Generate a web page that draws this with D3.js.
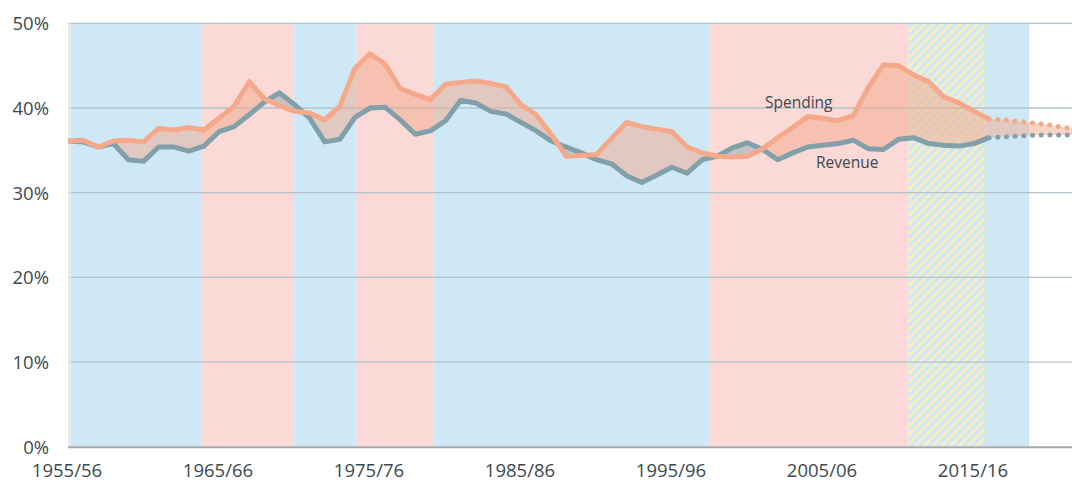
<!DOCTYPE html>
<html>
<head>
<meta charset="utf-8">
<script src="https://cdn.jsdelivr.net/npm/d3@7"></script>
<style>
  html, body { margin: 0; padding: 0; background: #ffffff; }
  svg { display: block; }
</style>
</head>
<body>
<svg id="chart" width="1072" height="485"></svg>
<script>
// ---------------- DATA ----------------
const categories = ["1955/56","1956/57","1957/58","1958/59","1959/60","1960/61","1961/62","1962/63","1963/64","1964/65",
  "1965/66","1966/67","1967/68","1968/69","1969/70","1970/71","1971/72","1972/73","1973/74","1974/75",
  "1975/76","1976/77","1977/78","1978/79","1979/80","1980/81","1981/82","1982/83","1983/84","1984/85",
  "1985/86","1986/87","1987/88","1988/89","1989/90","1990/91","1991/92","1992/93","1993/94","1994/95",
  "1995/96","1996/97","1997/98","1998/99","1999/00","2000/01","2001/02","2002/03","2003/04","2004/05",
  "2005/06","2006/07","2007/08","2008/09","2009/10","2010/11","2011/12","2012/13","2013/14","2014/15",
  "2015/16","2016/17","2017/18","2018/19","2019/20","2020/21","2021/22","2022/23"];

const tickLabels = ["1955/56","1965/66","1975/76","1985/86","1995/96","2005/06","2015/16"];
const yTicks = [0, 10, 20, 30, 40, 50];

// Outturn (% of GDP), 1955/56 .. 2016/17
const spending = [36.1,36.2,35.4,36.1,36.2,36.0,37.6,37.4,37.7,37.4,
  38.8,40.2,43.1,41.1,40.3,39.6,39.4,38.6,40.2,44.7,
  46.4,45.2,42.3,41.6,41.0,42.8,43.0,43.2,42.9,42.5,
  40.4,39.2,36.9,34.3,34.4,34.5,36.4,38.3,37.8,37.5,
  37.2,35.4,34.7,34.3,34.2,34.3,35.2,36.5,37.7,39.0,
  38.8,38.5,39.1,42.4,45.1,45.0,43.9,43.1,41.3,40.6,
  39.6,38.7];
const revenue = [36.1,36.0,35.4,35.8,33.9,33.7,35.4,35.4,34.9,35.5,
  37.2,37.8,39.2,40.7,41.8,40.4,38.8,36.0,36.3,38.9,
  40.0,40.1,38.6,36.9,37.3,38.5,40.9,40.6,39.6,39.3,
  38.3,37.3,36.1,35.4,34.7,33.9,33.4,32.0,31.2,32.1,
  33.0,32.3,33.9,34.3,35.3,35.9,35.1,33.9,34.7,35.4,
  35.6,35.8,36.2,35.2,35.1,36.3,36.5,35.8,35.6,35.5,
  35.8,36.5];
// Projections, 2016/17 .. 2022/23
const spendingProj = [38.7,38.6,38.4,38.2,38.0,37.7,37.5];
const revenueProj  = [36.5,36.6,36.7,36.8,36.8,36.8,36.8];
const projStartIndex = 61;

// Government periods (fractional category positions)
const bandStart = [0.2, 8.89, 14.92, 19.12, 24.19, 42.47, 55.65, 60.73];
const bandEnd   = [8.89, 14.92, 19.12, 24.19, 42.47, 55.65, 60.73, 63.66];
const bandParty = ["con","lab","con","lab","con","lab","coalition","con"];

// Series labels: [text, category position, value]
const seriesLabelText = ["Spending", "Revenue"];
const seriesLabelPos  = [46.16, 49.54];
const seriesLabelVal  = [40.0, 32.9];

// ---------------- CHART ----------------
const W = 1072, H = 485;
const svg = d3.select("#chart");
const FONT = "'Open Sans', 'Liberation Sans', sans-serif";
const TEXT = "#3d4950";

const x0 = 68, step = 15.1;
const xPoint = d3.scalePoint().domain(categories).range([x0, x0 + step * (categories.length - 1)]);
const xi = d3.scaleLinear().domain([0, categories.length - 1]).range([x0, x0 + step * (categories.length - 1)]);
const y = d3.scaleLinear().domain([0, 50]).range([446.8, 23.3]);

const colors = { con: "#cfe8f6", lab: "#fad9d7", coalition: "#cfe8f6" };

// hatch pattern
const defs = svg.append("defs");
const pat = defs.append("pattern")
  .attr("id", "hatch").attr("patternUnits", "userSpaceOnUse")
  .attr("width", 6.2).attr("height", 6.2)
  .attr("patternTransform", "rotate(45)");
pat.append("rect").attr("width", 6.2).attr("height", 6.2).attr("fill", "#cfe8f6");
pat.append("rect").attr("x", 0).attr("width", 2.9).attr("height", 6.2).attr("fill", "#f7edc3");

// bands
svg.append("g").selectAll("rect").data(bandStart.map((s, k) => ({ s, e: bandEnd[k], p: bandParty[k] })))
  .join("rect")
  .attr("x", d => xi(d.s)).attr("width", d => xi(d.e) - xi(d.s))
  .attr("y", y(50)).attr("height", y(0) - y(50))
  .attr("fill", d => d.p === "coalition" ? "url(#hatch)" : colors[d.p]);

// gridlines
svg.append("g").selectAll("line").data(yTicks.filter(t => t > 0)).join("line")
  .attr("x1", x0).attr("x2", W).attr("y1", d => y(d)).attr("y2", d => y(d))
  .attr("stroke", "#b3c3cb").attr("stroke-width", 1.3);

// left light axis line
svg.append("line").attr("x1", x0 + 1.5).attr("x2", x0 + 1.5).attr("y1", y(50)).attr("y2", y(0))
  .attr("stroke", "#e4e9ec").attr("stroke-width", 2.5);

// combined series for area
const allIdx = d3.range(categories.length);
const spAll = allIdx.map(i => i < projStartIndex ? spending[i] : spendingProj[i - projStartIndex]);
const rvAll = allIdx.map(i => i < projStartIndex ? revenue[i] : revenueProj[i - projStartIndex]);

defs.append("clipPath").attr("id", "aboveRev").append("path")
  .attr("d", d3.area().x(i => xi(i)).y0(0).y1(i => y(rvAll[i]))(allIdx));
defs.append("clipPath").attr("id", "belowRev").append("path")
  .attr("d", d3.area().x(i => xi(i)).y0(H).y1(i => y(rvAll[i]))(allIdx));

const gap = d3.area().x(i => xi(i)).y0(i => y(rvAll[i])).y1(i => y(spAll[i]));
svg.append("path").attr("d", gap(allIdx)).attr("fill", "#f4a98b").attr("fill-opacity", 0.5)
  .attr("clip-path", "url(#aboveRev)");
svg.append("path").attr("d", gap(allIdx)).attr("fill", "#82a0a8").attr("fill-opacity", 0.42)
  .attr("clip-path", "url(#belowRev)");

// bottom axis line
svg.append("line").attr("x1", x0).attr("x2", W).attr("y1", y(0) + 0.5).attr("y2", y(0) + 0.5)
  .attr("stroke", "#a7a9aa").attr("stroke-width", 2);

// lines
const line = d3.line().x(d => xi(d[0])).y(d => y(d[1]));
const revPts = revenue.map((v, i) => [i, v]);
const spPts = spending.map((v, i) => [i, v]);
const revProjPts = revenueProj.map((v, k) => [projStartIndex + k, v]);
const spProjPts = spendingProj.map((v, k) => [projStartIndex + k, v]);

const REV = "#82a0a9", SPD = "#f5a98a";
svg.append("path").attr("d", line(revPts)).attr("fill", "none").attr("stroke", REV)
  .attr("stroke-width", 5).attr("stroke-linejoin", "round");
svg.append("path").attr("d", line(revProjPts)).attr("fill", "none").attr("stroke", REV)
  .attr("stroke-width", 5).attr("stroke-linecap", "round").attr("stroke-dasharray", "0 8.7");
svg.append("path").attr("d", line(spPts)).attr("fill", "none").attr("stroke", SPD)
  .attr("stroke-width", 5).attr("stroke-linejoin", "round");
svg.append("path").attr("d", line(spProjPts)).attr("fill", "none").attr("stroke", SPD)
  .attr("stroke-width", 5).attr("stroke-linecap", "round").attr("stroke-dasharray", "0 8.7");

// y tick labels
svg.append("g").selectAll("text").data(yTicks).join("text")
  .attr("x", 49).attr("y", d => y(d) + 7)
  .attr("text-anchor", "end")
  .attr("font-family", FONT).attr("font-size", 18.5).attr("fill", TEXT)
  .text(d => d + "%");

// x tick labels
svg.append("g").selectAll("text").data(tickLabels).join("text")
  .attr("x", d => xPoint(d) - 1).attr("y", 477)
  .attr("text-anchor", "middle")
  .attr("font-family", FONT).attr("font-size", 18.5).attr("fill", TEXT)
  .text(d => d);

// series labels
svg.append("g").selectAll("text").data(seriesLabelText).join("text")
  .attr("x", (d, k) => xi(seriesLabelPos[k]))
  .attr("y", (d, k) => y(seriesLabelVal[k]))
  .attr("font-family", FONT).attr("font-size", 15.5).attr("fill", TEXT)
  .text(d => d);
</script>
</body>
</html>
